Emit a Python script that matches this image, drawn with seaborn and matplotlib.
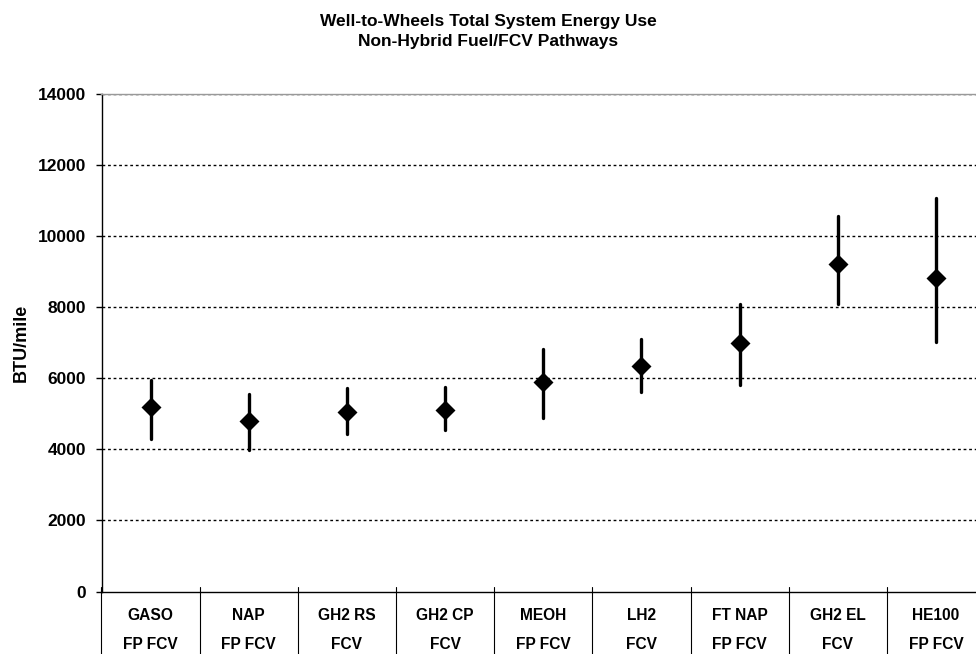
import matplotlib
matplotlib.use("Agg")
import matplotlib.pyplot as plt
import seaborn as sns
import pandas as pd

# ---- data ----
categories = ["GASO", "NAP", "GH2 RS", "GH2 CP", "MEOH", "LH2", "FT NAP", "GH2 EL", "HE100"]
sublabels = ["FP FCV", "FP FCV", "FCV", "FCV", "FP FCV", "FCV", "FP FCV", "FCV", "FP FCV"]
mid_vals = [5180, 4810, 5040, 5120, 5890, 6340, 7000, 9210, 8810]
low_vals = [4290, 3990, 4430, 4540, 4880, 5610, 5800, 8080, 7010]
high_vals = [5960, 5550, 5730, 5760, 6830, 7110, 8100, 10560, 11060]
yticks = [0, 2000, 4000, 6000, 8000, 10000, 12000, 14000]

rows = []
for c, lo, m, hi in zip(categories, low_vals, mid_vals, high_vals):
    for v in (lo, m, hi):
        rows.append({"cat": c, "val": v})
df = pd.DataFrame(rows)

sns.set_style("white")
plt.rcParams["font.family"] = ["Liberation Sans", "DejaVu Sans"]
plt.rcParams["font.weight"] = "bold"
plt.rcParams["text.color"] = "black"
plt.rcParams["axes.labelcolor"] = "black"
plt.rcParams["ytick.color"] = "black"

fig = plt.figure(figsize=(9.76, 6.54), dpi=100)
ax = fig.add_axes([101.5 / 976, (654 - 591.5) / 654, 883.5 / 976, 497.5 / 654])

sns.pointplot(data=df, x="cat", y="val", order=categories, estimator="median",
              errorbar=("pi", 100), color="black", markers="D", linestyle="none",
              markersize=8.5, err_kws={"linewidth": 2.4}, capsize=0, ax=ax)

ax.set_xlim(-0.5, len(categories) - 0.5)
ax.set_ylim(0, 14000)
ax.set_yticks(yticks)
ax.set_yticklabels([str(t) for t in yticks], fontsize=12.5, fontweight="bold")
ax.tick_params(axis="y", direction="out", length=4, width=1, color="black", pad=7, left=True)
ax.set_xticks([])
ax.set_xlabel("")
ax.set_ylabel("BTU/mile", fontsize=13, fontweight="bold")
ax.yaxis.set_label_coords(-0.081, 0.5)

# grid
for t in yticks[1:]:
    ax.axhline(t, color="black", linestyle=(0, (2, 2)), linewidth=1.0, zorder=0)

for s in ["left", "bottom"]:
    ax.spines[s].set_color("black")
    ax.spines[s].set_linewidth(1.0)
ax.spines["top"].set_color("#999999")
ax.spines["top"].set_linewidth(1.0)
ax.spines["right"].set_visible(False)

# category separators and labels
trans = ax.get_xaxis_transform()
for i in range(len(categories) + 1):
    ax.plot([i - 0.5, i - 0.5], [0.009, -0.13], transform=trans, color="black",
            linewidth=0.8, clip_on=False)
for i, (c, s) in enumerate(zip(categories, sublabels)):
    ax.text(i, -0.0579, c, transform=trans, ha="center", va="baseline",
            fontsize=11.2, fontweight="bold")
    ax.text(i, -0.115, s, transform=trans, ha="center", va="baseline",
            fontsize=11.2, fontweight="bold")

fig.text(0.5, (654 - 26) / 654, "Well-to-Wheels Total System Energy Use",
         ha="center", va="baseline", fontsize=12.5, fontweight="bold")
fig.text(0.5, (654 - 46) / 654, "Non-Hybrid Fuel/FCV Pathways",
         ha="center", va="baseline", fontsize=12.5, fontweight="bold")

fig.savefig("out.png", dpi=100)
